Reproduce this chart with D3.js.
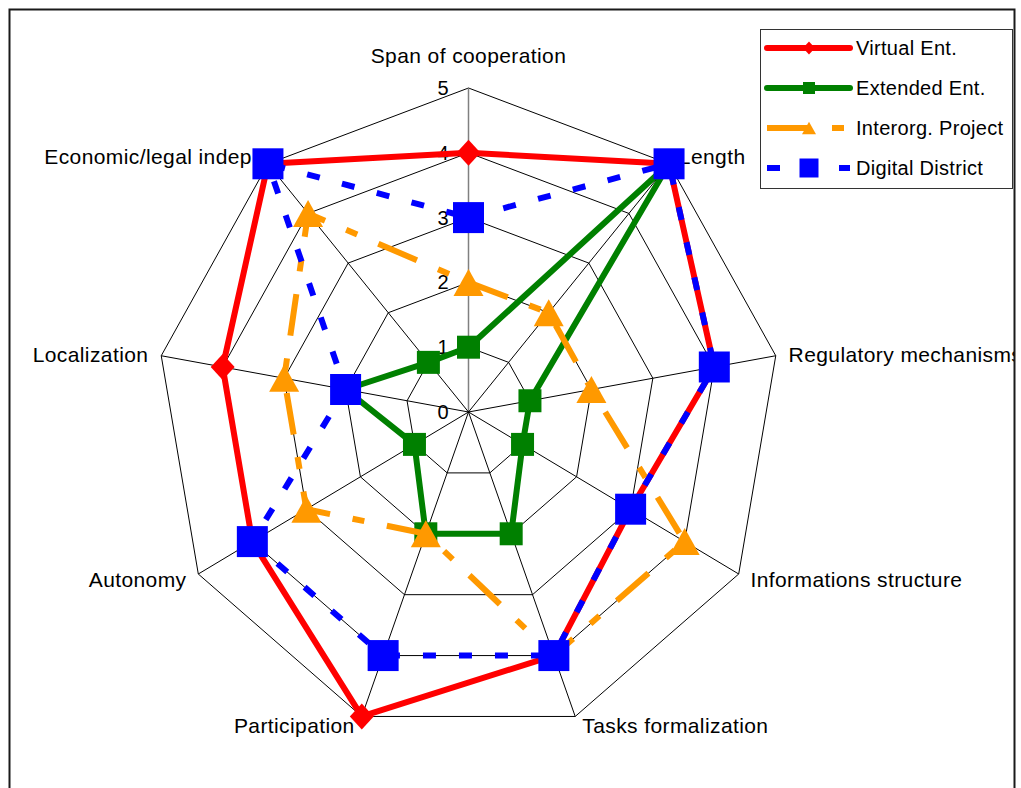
<!DOCTYPE html>
<html>
<head>
<meta charset="utf-8">
<script src="https://cdn.jsdelivr.net/npm/d3@7"></script>
<style>
  html, body { margin: 0; padding: 0; background: #fff; }
  svg { display: block; font-family: "Liberation Sans", Arial, sans-serif; }
</style>
</head>
<body>
<svg id="chart" width="1021" height="788"></svg>
<script>
// Radar axes, clockwise from the top
const axes = [
  "Span of cooperation", "Length", "Regulatory mechanisms",
  "Informations structure", "Tasks formalization", "Participation",
  "Autonomy", "Localization", "Economic/legal indep."
];
const virtualEnt      = [4, 5, 4, 3, 4, 5, 4, 4, 5];
const extendedEnt     = [1, 5, 1, 1, 2, 2, 1, 2, 1];
const interorgProject = [2, 2, 2, 4, 4, 2, 3, 3, 4];
const digitalDistrict = [3, 5, 4, 3, 4, 4, 4, 2, 5];
const seriesNames = ["Virtual Ent.", "Extended Ent.", "Interorg. Project", "Digital District"];
const tickValues = [0, 1, 2, 3, 4, 5];

const series = [
  { name: seriesNames[0], values: virtualEnt,      color: "#ff0000", dash: null,          marker: "diamond",  size: 13,   legendSize: 6.5 },
  { name: seriesNames[1], values: extendedEnt,     color: "#008000", dash: null,          marker: "square",   size: 11.5, legendSize: 6 },
  { name: seriesNames[2], values: interorgProject, color: "#ff9900", dash: "42,23,12,23", marker: "triangle", size: 15,   legendSize: 7 },
  { name: seriesNames[3], values: digitalDistrict, color: "#0000ff", dash: "13,23",       marker: "square",   size: 15.5, legendSize: 9.5 }
];

const svg = d3.select("#chart");
const cx = 468.5, cy = 412;
const n = axes.length;
// the plot area is slightly narrower than it is tall
const rX = d3.scaleLinear().domain([0, 5]).range([0, 312]);
const rY = d3.scaleLinear().domain([0, 5]).range([0, 324]);
const ang = i => i * 2 * Math.PI / n;             // 0 = up, clockwise
const px = (v, i) => cx + rX(v) * Math.sin(ang(i));
const py = (v, i) => cy - rY(v) * Math.cos(ang(i));

// clip to the outer frame
svg.append("defs").append("clipPath").attr("id", "frameClip")
  .append("rect").attr("x", 10).attr("y", 10).attr("width", 1004).attr("height", 800);

const g = svg.append("g").attr("clip-path", "url(#frameClip)");

const closedLine = d3.line()
  .x(d => px(d.v, d.i))
  .y(d => py(d.v, d.i))
  .curve(d3.curveLinearClosed);
const toPts = vals => vals.map((v, i) => ({ v, i }));

// grid polygons
g.append("g")
  .selectAll("path").data(tickValues.filter(t => t > 0)).join("path")
  .attr("d", t => closedLine(toPts(axes.map(() => t))))
  .attr("fill", "none").attr("stroke", "#000").attr("stroke-width", 1);

// spokes
g.append("g").selectAll("line").data(axes).join("line")
  .attr("x1", cx).attr("y1", cy)
  .attr("x2", (d, i) => px(5, i)).attr("y2", (d, i) => py(5, i))
  .attr("stroke", (d, i) => i === 0 ? "#808080" : "#000")
  .attr("stroke-width", (d, i) => i === 0 ? 1.5 : 1);

// tick labels on the vertical axis
g.append("g").selectAll("text").data(tickValues).join("text")
  .attr("x", cx - 20).attr("y", t => cy - rY(t))
  .attr("text-anchor", "end").attr("dominant-baseline", "central")
  .attr("font-size", 20).attr("fill", "#000")
  .text(t => t);

// axis labels
g.append("g").selectAll("text").data(axes).join("text")
  .attr("x", (d, i) => {
    const s = Math.sin(ang(i));
    if (i === 0) return cx;
    return px(5, i) + Math.sign(s) * (4 + 9 * Math.abs(s));
  })
  .attr("y", (d, i) => i === 0 ? py(5, i) - 33 : py(5, i) - 10 * Math.cos(ang(i)))
  .attr("text-anchor", (d, i) => i === 0 ? "middle" : (Math.sin(ang(i)) > 0 ? "start" : "end"))
  .attr("dominant-baseline", "central")
  .attr("font-size", 21).attr("letter-spacing", 0.4).attr("fill", "#000")
  .text(d => d);

// marker shapes
function markerPath(type, s) {
  if (type === "square") return `M${-s},${-s}H${s}V${s}H${-s}Z`;
  if (type === "diamond") return `M0,${-s}L${s * 0.92},0L0,${s}L${-s * 0.92},0Z`;
  if (type === "triangle") return `M0,${-s * 0.9}L${s},${s * 0.9}L${-s},${s * 0.9}Z`;
}

series.forEach(sr => {
  const sg = g.append("g");
  sg.append("path")
    .attr("d", closedLine(toPts(sr.values)))
    .attr("fill", "none")
    .attr("stroke", sr.color)
    .attr("stroke-width", 6)
    .attr("stroke-linejoin", "round")
    .attr("stroke-dasharray", sr.dash);
  sg.selectAll("path.mk").data(sr.values).join("path")
    .attr("class", "mk")
    .attr("transform", (v, i) => `translate(${px(v, i)},${py(v, i)})`)
    .attr("d", markerPath(sr.marker, sr.size))
    .attr("fill", sr.color);
});

// legend
const legend = svg.append("g");
legend.append("rect")
  .attr("x", 760.5).attr("y", 29.5).attr("width", 252).attr("height", 159)
  .attr("fill", "#fff").attr("stroke", "#333").attr("stroke-width", 1);

const rowY = d3.scalePoint().domain(seriesNames).range([48, 168]);
series.forEach(sr => {
  const y = rowY(sr.name);
  legend.append("line")
    .attr("x1", 767).attr("x2", 850).attr("y1", y).attr("y2", y)
    .attr("stroke", sr.color).attr("stroke-width", 6)
    .attr("stroke-linecap", sr.dash ? "butt" : "round")
    .attr("stroke-dasharray", sr.dash);
  legend.append("path")
    .attr("transform", `translate(809,${y})`)
    .attr("d", markerPath(sr.marker, sr.legendSize))
    .attr("fill", sr.color);
  legend.append("text")
    .attr("x", 856).attr("y", y)
    .attr("dominant-baseline", "central")
    .attr("font-size", 20).attr("letter-spacing", 0.3).attr("fill", "#000")
    .text(sr.name);
});

// outer frame
svg.append("path")
  .attr("d", "M9.5,800V9.5H1014.5V800")
  .attr("fill", "none").attr("stroke", "#1a1a1a").attr("stroke-width", 2);
</script>
</body>
</html>
